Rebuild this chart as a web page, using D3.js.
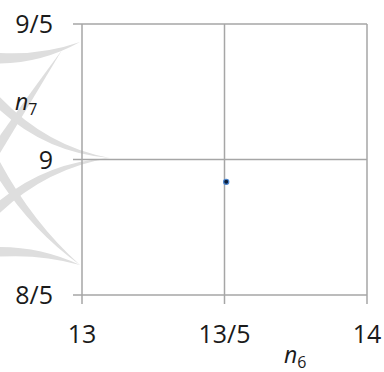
<!DOCTYPE html>
<html>
<head>
<meta charset="utf-8">
<script src="https://cdn.jsdelivr.net/npm/d3@7"></script>
<style>
  html, body { margin: 0; padding: 0; background: #fff; }
  svg { display: block; font-family: 'Open Sans', sans-serif; }
</style>
</head>
<body>
<div id="chart"></div>
<script>
// data
const xTicks = [13, 13.5, 14]
const xTickLabels = ['13', '13/5', '14']
const yTicks = [1.6, 1.7, 1.8]
const yTickLabels = ['8/5', '9', '9/5']
const pointsX = [13.506]
const pointsY = [1.6835]

const width = 384, height = 372
const margin = {top: 24, right: 17, bottom: 77, left: 82}
const w = width - margin.left - margin.right
const h = height - margin.top - margin.bottom

const svg = d3.select('#chart').append('svg')
  .attr('width', width)
  .attr('height', height)

// light grey watermark behind the plot
const wm = svg.append('g').attr('fill', '#dedede')
function spike (base, tip, ctrl, bw) {
  let dx = tip[0] - base[0], dy = tip[1] - base[1]
  let len = Math.hypot(dx, dy)
  let nx = -dy / len, ny = dx / len
  let hw = bw / 2
  return `M${base[0] + nx * hw},${base[1] + ny * hw}` +
    `Q${ctrl[0] + nx * hw * 0.7},${ctrl[1] + ny * hw * 0.7} ${tip[0]},${tip[1]}` +
    `Q${ctrl[0] - nx * hw * 0.7},${ctrl[1] - ny * hw * 0.7} ${base[0] - nx * hw},${base[1] - ny * hw}Z`
}
const spikes = [
  [[-4, 58], [80, 42], [40, 60], 11],
  [[-4, 150], [62, 50], [22, 110], 10],
  [[-4, 100], [110, 158], [45, 150], 10],
  [[-4, 210], [110, 158], [45, 165], 10],
  [[-4, 165], [80, 265], [30, 225], 10],
  [[-4, 252], [80, 265], [40, 250], 10]
]
spikes.forEach(s => wm.append('path').attr('d', spike(s[0], s[1], s[2], s[3])))

const g = svg.append('g').attr('transform', `translate(${margin.left},${margin.top})`)

const x = d3.scaleLinear().domain([xTicks[0], xTicks[2]]).range([0, w])
const y = d3.scaleLinear().domain([yTicks[0], yTicks[2]]).range([h, 0])

const gridColor = '#a6a6a6'

// gridlines
g.selectAll('.vgrid').data(xTicks).enter().append('line')
  .attr('x1', d => x(d)).attr('x2', d => x(d))
  .attr('y1', 0).attr('y2', h + 9)
  .attr('stroke', gridColor).attr('stroke-width', 1.5)
g.selectAll('.hgrid').data(yTicks).enter().append('line')
  .attr('x1', -9).attr('x2', w)
  .attr('y1', d => y(d)).attr('y2', d => y(d))
  .attr('stroke', gridColor).attr('stroke-width', 1.5)

// tick labels
g.selectAll('.xlab').data(xTicks).enter().append('text')
  .attr('x', d => x(d))
  .attr('y', h + 48)
  .attr('text-anchor', 'middle')
  .attr('font-size', 25)
  .attr('fill', '#1a1a1a')
  .text((d, i) => xTickLabels[i])
g.selectAll('.ylab').data(yTicks).enter().append('text')
  .attr('x', -29)
  .attr('y', d => y(d) + 9)
  .attr('text-anchor', 'end')
  .attr('font-size', 25)
  .attr('fill', '#1a1a1a')
  .text((d, i) => yTickLabels[i])

// axis titles
function axisTitle (sel, tx, ty, sub) {
  let t = sel.append('text')
    .attr('x', tx).attr('y', ty)
    .attr('fill', '#1a1a1a')
  t.append('tspan').attr('font-size', 23).attr('font-style', 'italic').text('n')
  t.append('tspan').attr('font-size', 16).attr('dy', 5).text(sub)
}
axisTitle(svg, 284, 363, '6')
axisTitle(svg, 15, 110, '7')

// points
g.selectAll('circle').data(pointsX).enter().append('circle')
  .attr('cx', d => x(d))
  .attr('cy', (d, i) => y(pointsY[i]))
  .attr('r', 2.6)
  .attr('fill', '#0d1f3a')
  .attr('stroke', '#4a86d0')
  .attr('stroke-width', 1.2)
</script>
</body>
</html>
